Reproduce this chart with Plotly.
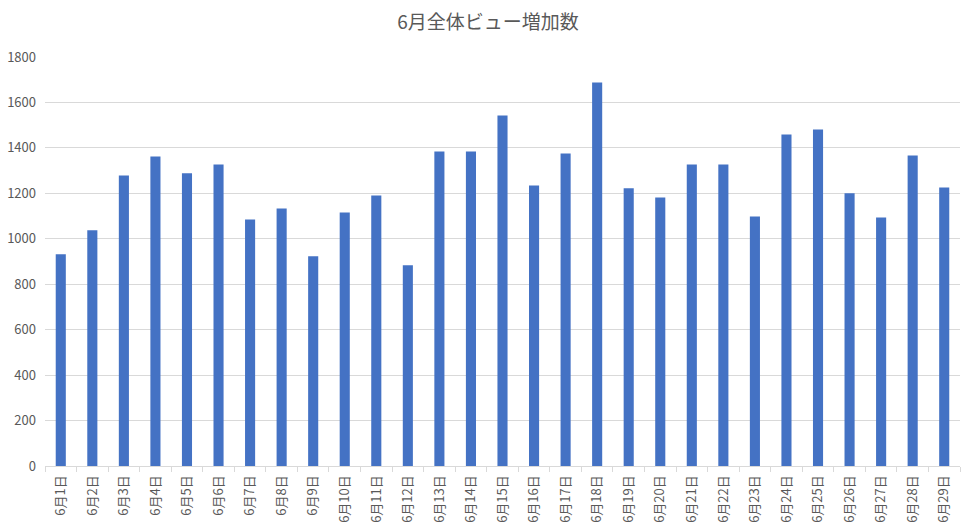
import plotly.graph_objects as go

days = [f'6月{d}日' for d in range(1, 30)]
views = [932, 1037, 1279, 1362, 1288, 1327, 1085, 1133, 923, 1116,
         1190, 883, 1384, 1384, 1542, 1235, 1375, 1688, 1222, 1182,
         1327, 1327, 1098, 1459, 1481, 1200, 1094, 1366, 1226]
y_ticks = [0, 200, 400, 600, 800, 1000, 1200, 1400, 1600, 1800]

bar_color = '#4472C4'
grid_color = '#D9D9D9'
text_color = '#595959'

fig = go.Figure()
fig.add_trace(
    go.Bar(
        x=days,
        y=views,
        marker=dict(color=bar_color, line=dict(width=0)),
        hoverinfo='x+y'
    )
)

fig.update_layout(
    width=976,
    height=522,
    template='simple_white',
    font=dict(family='Noto Sans CJK JP', color=text_color),
    title=dict(text='6月全体ビュー増加数', x=0.5, xanchor='center',
               y=0.958, yanchor='middle', yref='container',
               font=dict(size=19, color=text_color)),
    margin=dict(l=45, r=16, t=57, b=56, autoexpand=False),
    bargap=0.68,
    showlegend=False,
    plot_bgcolor='white',
    paper_bgcolor='white',
)
fig.update_xaxes(
    automargin=False,
    tickangle=-90,
    tickfont=dict(size=13, color=text_color),
    ticklabelstandoff=3,
    showline=True, linecolor=grid_color, linewidth=1,
    ticks='outside', tickson='boundaries', ticklen=5, tickcolor=grid_color,
    showgrid=False,
)
fig.update_yaxes(
    automargin=False,
    range=[0, 1800],
    tickvals=y_ticks,
    tickfont=dict(size=13, color=text_color),
    ticklabelstandoff=8,
    showgrid=True, gridcolor=grid_color, gridwidth=1,
    showline=False, ticks='', zeroline=False,
)

# page body has a default 8px margin, drop it so the chart fills the window
fig.write_html("out.html", config={'displayModeBar': False},
               post_script="document.body.style.margin='0';")
